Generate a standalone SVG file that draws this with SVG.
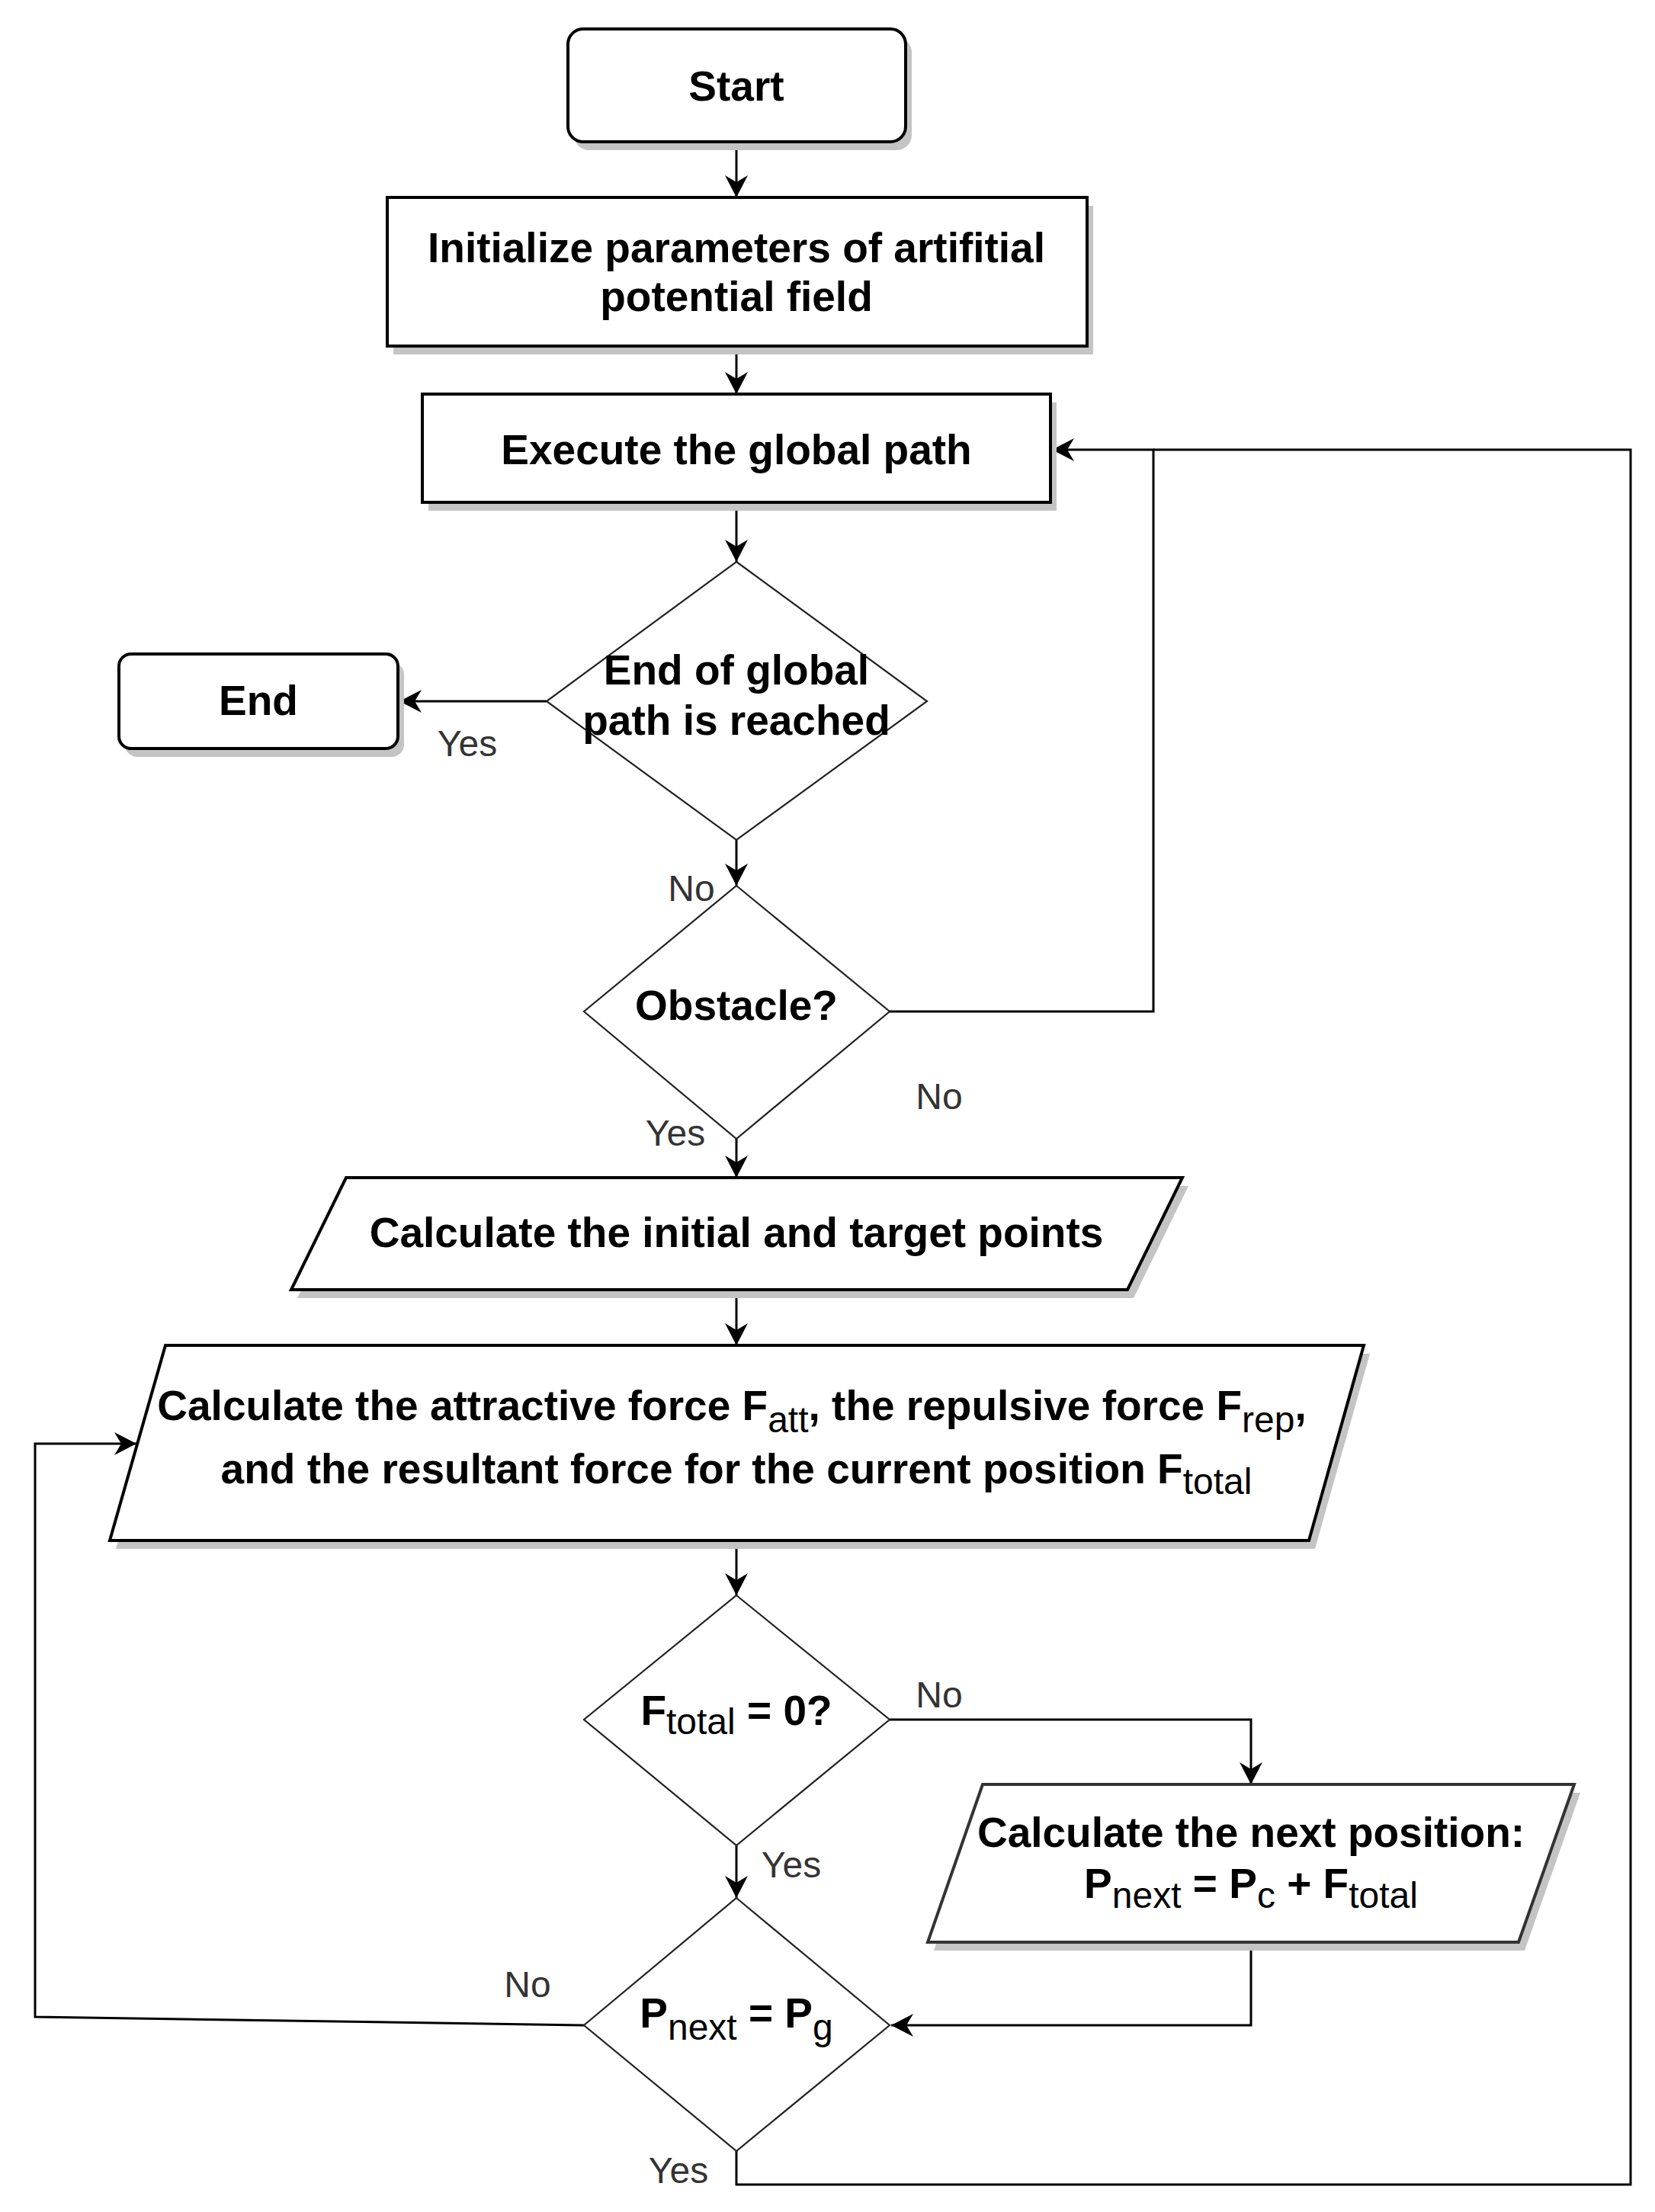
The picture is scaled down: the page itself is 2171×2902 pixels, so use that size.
<svg xmlns="http://www.w3.org/2000/svg" width="2171" height="2902" viewBox="0 0 2171 2902">
<style>
.bg{fill:#fff}
.node{fill:#fff;stroke:#000;stroke-width:4}
.node2{fill:#fff;stroke:#333;stroke-width:4}
.shadow{fill:#c4c4c4;stroke:none}
.dia{fill:#fff;stroke:#222;stroke-width:2.2}
.t{font-family:"Liberation Sans",Arial,Helvetica,sans-serif;font-size:55px;font-weight:bold;fill:#000;text-anchor:middle}
.sub{font-weight:normal;font-size:48px}
.lbl{font-family:"Liberation Sans",Arial,Helvetica,sans-serif;font-size:48px;fill:#333;text-anchor:middle}
.edge{fill:none;stroke:#000;stroke-width:3}
</style>
<defs>
<marker id="arr" markerUnits="userSpaceOnUse" viewBox="-32 -17 34 34" markerWidth="34" markerHeight="34" refX="0" refY="0" orient="auto">
<path d="M0,0 L-29,-15 L-20,0 L-29,15 Z" fill="#000"/>
</marker>
</defs>
<rect class="bg" x="0" y="0" width="2171" height="2902"/>

<g id="connectors">
<path class="edge" d="M966,186 L966,259" marker-end="url(#arr)"/>
<path class="edge" d="M966,454 L966,517" marker-end="url(#arr)"/>
<path class="edge" d="M966,659 L966,737" marker-end="url(#arr)"/>
<path class="edge" d="M717,920 L524,920" marker-end="url(#arr)"/>
<path class="edge" d="M966,1102 L966,1162" marker-end="url(#arr)"/>
<path class="edge" d="M1167,1327 L1513,1327 L1513,590 L1380,590" marker-end="url(#arr)"/>
<path class="edge" d="M966,1494 L966,1545" marker-end="url(#arr)"/>
<path class="edge" d="M966,1692 L966,1765" marker-end="url(#arr)"/>
<path class="edge" d="M966,2021 L966,2093" marker-end="url(#arr)"/>
<path class="edge" d="M1167,2256 L1641,2256 L1641,2341" marker-end="url(#arr)"/>
<path class="edge" d="M966,2421 L966,2490" marker-end="url(#arr)"/>
<path class="edge" d="M1641,2548 L1641,2657 L1169,2657" marker-end="url(#arr)"/>
<path class="edge" d="M766,2657 L46,2646 L46,1894 L179,1894" marker-end="url(#arr)"/>
<path class="edge" d="M966,2822 L966,2866 L2139,2866 L2139,590 L1513,590"/>
<text class="lbl" x="613" y="992">Yes</text>
<text class="lbl" x="907" y="1182">No</text>
<text class="lbl" x="1232" y="1455">No</text>
<text class="lbl" x="886" y="1503">Yes</text>
<text class="lbl" x="1232" y="2240">No</text>
<text class="lbl" x="1038" y="2463">Yes</text>
<text class="lbl" x="692" y="2620">No</text>
<text class="lbl" x="890" y="2864">Yes</text>
</g>

<g id="start">
<rect class="shadow" x="753" y="49" width="443" height="148" rx="20"/>
<rect class="node" x="745" y="38" width="443" height="148" rx="20"/>
<text class="t" x="966" y="132">Start</text>
</g>

<g id="init">
<rect class="shadow" x="516" y="270" width="918" height="195"/>
<rect class="node" x="508" y="259" width="918" height="195"/>
<text class="t" x="966" y="344">Initialize parameters of artifitial</text>
<text class="t" x="966" y="408">potential field</text>
</g>

<g id="execute">
<rect class="shadow" x="562" y="528" width="824" height="142"/>
<rect class="node" x="554" y="517" width="824" height="142"/>
<text class="t" x="966" y="609">Execute the global path</text>
</g>

<g id="end">
<rect class="shadow" x="164" y="869" width="366" height="124" rx="16"/>
<rect class="node" x="156" y="858" width="366" height="124" rx="16"/>
<text class="t" x="339" y="938">End</text>
</g>

<g id="d-end">
<polygon class="dia" points="966,737 1216,920 966,1102 717,920"/>
<text class="t" x="966" y="898">End of global</text>
<text class="t" x="966" y="964">path is reached</text>
</g>

<g id="d-obstacle">
<polygon class="dia" points="966,1162 1167,1327 966,1494 766,1327"/>
<text class="t" x="966" y="1338">Obstacle?</text>
</g>

<g id="p-points">
<polygon class="shadow" points="462,1556 1559,1556 1487,1703 390,1703"/>
<polygon class="node" points="454,1545 1551,1545 1479,1692 382,1692"/>
<text class="t" x="966" y="1636">Calculate the initial and target points</text>
</g>

<g id="p-forces">
<polygon class="shadow" points="225,1776 1797,1776 1725,2032 152,2032"/>
<polygon class="node" points="217,1765 1789,1765 1717,2021 144,2021"/>
<text class="t" x="960" y="1863">Calculate the attractive force F<tspan class="sub" dy="16">att</tspan><tspan dy="-16">, the repulsive force F</tspan><tspan class="sub" dy="16">rep</tspan><tspan dy="-16">,</tspan></text>
<text class="t" x="966" y="1946">and the resultant force for the current position F<tspan class="sub" dy="14">total</tspan></text>
</g>

<g id="d-ftotal">
<polygon class="dia" points="966,2093 1167,2256 966,2421 766,2256"/>
<text class="t" x="966" y="2263">F<tspan class="sub" dy="12">total</tspan><tspan dy="-12"> = 0?</tspan></text>
</g>

<g id="p-next">
<polygon class="shadow" points="1297,2352 2073,2352 2000,2559 1225,2559"/>
<polygon class="node2" points="1289,2341 2065,2341 1992,2548 1217,2548"/>
<text class="t" x="1641" y="2423">Calculate the next position:</text>
<text class="t" x="1641" y="2490">P<tspan class="sub" dy="13">next</tspan><tspan dy="-13"> = P</tspan><tspan class="sub" dy="13">c</tspan><tspan dy="-13"> + F</tspan><tspan class="sub" dy="13">total</tspan></text>
</g>

<g id="d-pnext">
<polygon class="dia" points="966,2490 1167,2657 966,2822 766,2657"/>
<text class="t" x="966" y="2660">P<tspan class="sub" dy="16">next</tspan><tspan dy="-16"> = P</tspan><tspan class="sub" dy="16">g</tspan></text>
</g>
</svg>
